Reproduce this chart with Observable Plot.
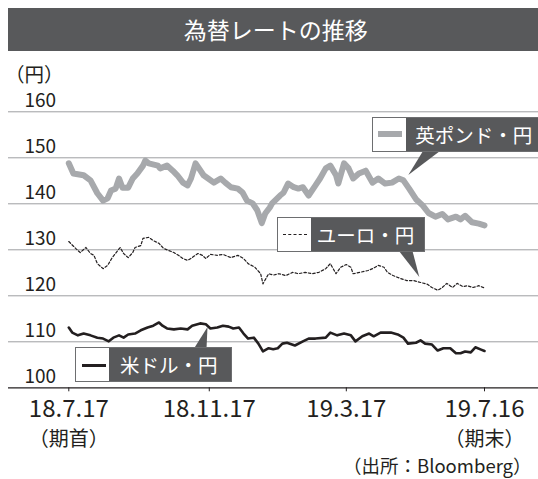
<!DOCTYPE html>
<html><head><meta charset="utf-8">
<script src="https://cdn.jsdelivr.net/npm/d3@7"></script>
<script src="https://cdn.jsdelivr.net/npm/@observablehq/plot@0.6"></script>
<style>
body{margin:0;background:#fff;overflow:hidden;font-family:"Noto Sans CJK JP",sans-serif;color:#231f20}
#wrap{position:relative;width:538px;height:479px;overflow:hidden}
#title{position:absolute;left:7.5px;top:7.5px;width:530.5px;height:43.3px;background:#58595b;color:#fff;font-size:23px;line-height:43px;text-align:center;box-sizing:border-box;padding-left:6px}
#chart{position:absolute;left:0;top:56px}
.leg{position:absolute;display:flex;box-sizing:border-box;height:35px;border:1px solid #6d6e70}
.leg .sw{width:33px;background:#fff;position:relative}
.leg .lab{flex:1;background:#58595b;color:#fff;font-size:19.5px;line-height:33px;white-space:nowrap;overflow:hidden}
#caption{position:absolute;left:343px;top:452px;font-size:18.5px;line-height:normal;white-space:nowrap}
#over{position:absolute;left:0;top:0;pointer-events:none}
</style></head>
<body>
<div id="wrap">
  <div id="title">為替レートの推移</div>
  <div id="chart"></div>
  <svg id="over" width="538" height="479">
    <polygon points="423,151 440,151 408.3,175" fill="#58595b"/>
    <polygon points="399,251 412.5,251 419.3,277" fill="#58595b"/>
    <polygon points="194,348.5 206.5,348.5 207.5,327" fill="#58595b"/>
  </svg>
  <div class="leg" style="left:372.3px;top:116.7px;width:170px;">
    <div class="sw"><div style="position:absolute;left:5px;top:13.5px;width:24px;height:6px;background:#a7a9ac"></div></div>
    <div class="lab" style="padding-left:9px">英ポンド・円</div>
  </div>
  <div class="leg" style="left:276.7px;top:217.3px;width:148.3px;">
    <div class="sw"><div style="position:absolute;left:5px;top:16px;width:24px;height:0;border-top:1.3px dashed #231f20"></div></div>
    <div class="lab" style="padding-left:6px">ユーロ・円</div>
  </div>
  <div class="leg" style="left:75px;top:347.3px;width:156.7px;">
    <div class="sw"><div style="position:absolute;left:5.5px;top:15.5px;width:24px;height:3px;background:#231f20"></div></div>
    <div class="lab" style="padding-left:11px">米ドル・円</div>
  </div>
  <div id="caption">（出所：Bloomberg）</div>
</div>
<script>
// ---- data ----
const xTickDates = ["2018-07-17","2018-11-17","2019-03-17","2019-07-16"];
const xTickLabels = ["18.7.17","18.11.17","19.3.17","19.7.16"];
const xSubLabels = ["（期首）","","","（期末）"];
const yTicks = [100,110,120,130,140,150,160];
const gridValues = [110,120,130,140,150,160];
const yUnit = "（円）";

const gbpDates = ["2018-07-17","2018-07-21","2018-07-30","2018-08-05","2018-08-11","2018-08-16","2018-08-20","2018-08-23","2018-08-27","2018-08-30","2018-09-02","2018-09-07","2018-09-11","2018-09-15","2018-09-20","2018-09-22","2018-09-25","2018-10-03","2018-10-05","2018-10-11","2018-10-16","2018-10-20","2018-10-25","2018-10-29","2018-11-01","2018-11-05","2018-11-08","2018-11-12","2018-11-16","2018-11-21","2018-11-27","2018-12-01","2018-12-06","2018-12-12","2018-12-16","2018-12-20","2018-12-25","2018-12-29","2019-01-02","2019-01-05","2019-01-09","2019-01-11","2019-01-18","2019-01-21","2019-01-25","2019-01-30","2019-02-03","2019-02-07","2019-02-12","2019-02-18","2019-02-22","2019-02-27","2019-03-03","2019-03-08","2019-03-10","2019-03-15","2019-03-19","2019-03-23","2019-03-28","2019-04-03","2019-04-09","2019-04-14","2019-04-20","2019-04-26","2019-05-02","2019-05-06","2019-05-11","2019-05-17","2019-05-23","2019-05-28","2019-06-03","2019-06-09","2019-06-14","2019-06-21","2019-06-25","2019-06-29","2019-07-05","2019-07-11","2019-07-16"];
const gbpValues = [148.8,146.6,146.2,145.1,142.3,140.7,141.2,142.9,143.3,145.5,143.5,143.5,145.5,146.6,148.3,149.4,148.8,148.3,147.7,148.3,147.2,146.2,144.6,144.0,145.5,148.8,147.7,146.2,145.5,144.6,145.5,144.6,143.6,143.3,142.5,140.7,140.1,138.6,135.8,137.9,139.2,140.1,141.8,142.4,144.4,143.6,143.3,143.6,141.8,144.0,145.5,147.7,148.3,146.2,144.4,148.8,147.7,145.5,146.6,147.2,144.6,145.5,144.4,144.6,145.5,145.1,143.3,141.0,139.6,138.0,137.2,137.8,136.6,137.2,136.6,137.4,136.0,135.7,135.3];

const eurDates = ["2018-07-17","2018-07-23","2018-07-27","2018-08-01","2018-08-05","2018-08-08","2018-08-11","2018-08-16","2018-08-20","2018-08-24","2018-08-29","2018-08-31","2018-09-03","2018-09-07","2018-09-11","2018-09-13","2018-09-18","2018-09-20","2018-09-25","2018-09-29","2018-10-04","2018-10-08","2018-10-12","2018-10-17","2018-10-21","2018-10-25","2018-10-29","2018-11-02","2018-11-07","2018-11-11","2018-11-14","2018-11-18","2018-11-24","2018-11-29","2018-12-06","2018-12-12","2018-12-17","2018-12-21","2018-12-27","2019-01-01","2019-01-03","2019-01-08","2019-01-12","2019-01-17","2019-01-23","2019-01-29","2019-02-03","2019-02-09","2019-02-15","2019-02-21","2019-02-27","2019-03-03","2019-03-08","2019-03-12","2019-03-17","2019-03-21","2019-03-23","2019-03-29","2019-04-05","2019-04-09","2019-04-14","2019-04-19","2019-04-22","2019-04-27","2019-05-03","2019-05-09","2019-05-15","2019-05-21","2019-05-27","2019-05-31","2019-06-05","2019-06-09","2019-06-13","2019-06-18","2019-06-22","2019-06-27","2019-07-01","2019-07-06","2019-07-11","2019-07-16"];
const eurValues = [131.8,130.3,129.4,130.5,129.2,128.8,127.0,125.9,126.6,128.3,129.9,130.5,129.2,128.3,129.4,130.5,130.9,132.5,132.7,132.0,131.4,130.3,129.9,129.4,128.8,128.1,127.7,128.3,129.2,128.8,128.1,129.0,128.8,129.0,128.3,128.8,128.1,127.0,126.2,124.8,122.6,124.8,124.5,124.8,124.4,125.1,124.8,125.1,124.8,125.1,125.9,127.0,124.8,126.2,126.8,126.2,124.8,125.1,125.5,125.9,126.6,126.2,125.1,124.4,123.8,123.3,123.3,122.9,122.5,121.8,121.2,121.8,122.7,121.8,122.7,122.0,122.2,121.8,122.2,121.7];

const usdDates = ["2018-07-17","2018-07-20","2018-07-25","2018-07-30","2018-08-05","2018-08-11","2018-08-16","2018-08-21","2018-08-25","2018-08-30","2018-09-03","2018-09-07","2018-09-13","2018-09-18","2018-09-24","2018-09-29","2018-10-04","2018-10-07","2018-10-11","2018-10-17","2018-10-23","2018-10-29","2018-11-02","2018-11-09","2018-11-14","2018-11-18","2018-11-24","2018-11-29","2018-12-04","2018-12-08","2018-12-13","2018-12-17","2018-12-21","2018-12-26","2018-12-30","2019-01-03","2019-01-08","2019-01-12","2019-01-16","2019-01-20","2019-01-24","2019-01-31","2019-02-07","2019-02-12","2019-02-18","2019-02-27","2019-03-03","2019-03-09","2019-03-15","2019-03-21","2019-03-25","2019-03-31","2019-04-06","2019-04-10","2019-04-16","2019-04-25","2019-05-01","2019-05-06","2019-05-10","2019-05-17","2019-05-21","2019-05-25","2019-05-31","2019-06-05","2019-06-10","2019-06-16","2019-06-21","2019-06-25","2019-06-29","2019-07-04","2019-07-08","2019-07-13","2019-07-16"];
const usdValues = [113.1,112.0,111.4,111.8,111.4,110.9,110.7,110.1,110.9,111.4,110.9,111.6,111.8,112.5,113.1,113.5,114.2,113.5,112.9,112.7,112.9,112.7,113.5,114.0,113.8,112.9,113.1,113.5,113.3,112.9,113.1,111.8,110.7,110.9,109.6,107.9,108.6,108.4,108.6,109.6,109.8,109.2,110.1,110.7,110.7,110.9,112.0,111.4,111.8,111.4,110.1,111.2,111.8,111.2,112.0,112.0,111.6,110.9,109.6,109.8,110.3,109.6,109.4,108.1,108.6,108.6,107.5,107.5,107.9,107.7,108.8,108.3,108.0];

// ---- build ----
const parse = d3.utcParse("%Y-%m-%d");
const rows = (dates, values) => dates.map((d, i) => ({date: parse(d), value: values[i]}));
const gbp = rows(gbpDates, gbpValues);
const eur = rows(eurDates, eurValues);
const usd = rows(usdDates, usdValues);
const ticks = xTickDates.map(parse);
const subs = ticks.map((d, i) => ({date: d, text: xSubLabels[i]}));

const T = 56, H = 400;
const chart = Plot.plot({
  width: 538, height: H,
  marginLeft: 8, marginRight: 0,
  marginTop: 111.3 - T, marginBottom: H - (387.3 - T),
  x: {type: "utc", domain: [ticks[0], ticks[3]], range: [68.3, 484], label: null},
  y: {domain: [100, 160], axis: null, label: null},
  style: {fontFamily: '"Noto Sans CJK JP", sans-serif', color: "#231f20", background: "transparent", overflow: "visible"},
  marks: [
    Plot.ruleY(gridValues, {stroke: "#9d9fa2", strokeWidth: 1}),
    Plot.ruleY([100], {stroke: "#231f20", strokeWidth: 1.2}),
    Plot.text(yTicks, {y: d => d, text: d => String(d), frameAnchor: "left", textAnchor: "start", dx: 16, dy: -11, fontSize: 19, fill: "#231f20"}),
    Plot.text([yUnit], {text: d => d, frameAnchor: "top-left", textAnchor: "start", dx: -3.6, dy: -44, fontSize: 19.5, fill: "#231f20"}),
    Plot.axisX({ticks: ticks, tickFormat: d => xTickLabels[ticks.findIndex(t => +t === +d)], tickSize: 4, tickPadding: 8, fontSize: 24, stroke: "#231f20", fill: "#231f20"}),
    Plot.text(subs, {x: "date", text: "text", frameAnchor: "bottom", dy: 58, fontSize: 20, fill: "#231f20"}),
    Plot.line(gbp, {x: "date", y: "value", stroke: "#a7a9ac", strokeWidth: 6, strokeLinejoin: "round", strokeLinecap: "round"}),
    Plot.line(eur, {x: "date", y: "value", stroke: "#231f20", strokeWidth: 1.2, strokeDasharray: "2.5,2"}),
    Plot.line(usd, {x: "date", y: "value", stroke: "#231f20", strokeWidth: 2.6, strokeLinejoin: "round"})
  ]
});
document.getElementById("chart").appendChild(chart);
</script>
</body></html>
